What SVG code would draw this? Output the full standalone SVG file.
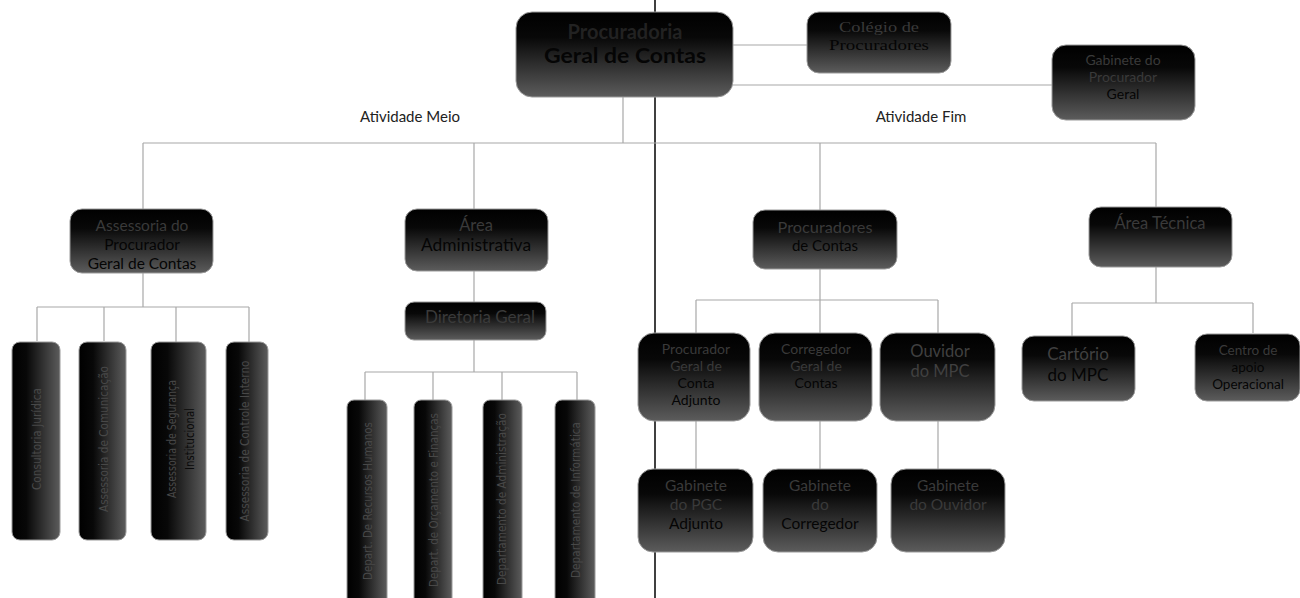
<svg xmlns="http://www.w3.org/2000/svg" width="1300" height="598" viewBox="0 0 1300 598">
<defs>
<linearGradient id="gv" x1="0" y1="0" x2="0" y2="1">
<stop offset="0" stop-color="#000"/>
<stop offset="0.3" stop-color="#080808"/>
<stop offset="1" stop-color="#5c5c5c"/>
</linearGradient>
<linearGradient id="gh" x1="0" y1="0" x2="1" y2="0">
<stop offset="0" stop-color="#000"/>
<stop offset="0.3" stop-color="#080808"/>
<stop offset="1" stop-color="#5c5c5c"/>
</linearGradient>
<style>
.box{fill:url(#gv);stroke:#9a9a9a;stroke-width:1}
.vbox{fill:url(#gh);stroke:#9a9a9a;stroke-width:1}
.ln{stroke:#a8a8a8;stroke-width:1.2;fill:none}
.t{font-family:Lato,"Liberation Sans",sans-serif;text-anchor:middle}
.L{fill:#3a3a3a}
.D{fill:#050505}
.vt{font-family:"DejaVu Sans Condensed","Liberation Sans",sans-serif;fill:#484848;text-anchor:middle;font-size:13px}
.lbl{font-family:Lato,"Liberation Sans",sans-serif;fill:#222;font-size:15px;text-anchor:middle}
</style>
</defs>
<rect width="1300" height="598" fill="#fff"/>
<g id="connectors">
<line x1="655" y1="0" x2="655" y2="598" stroke="#000" stroke-width="1.5"/>
<path class="ln" d="M733 45H807M733 85H1052M623 97V143M143 143H1156M143 143V210M474 143V210M820 143V210M1156 143V208"/>
<path class="ln" d="M143 273V307M37 307H249M37 307V341M104 307V341M176 307V342M249 307V342"/>
<path class="ln" d="M474 271V302M474 340V372M365 372H577M365 372V400M433 372V400M502 372V400M577 372V400"/>
<path class="ln" d="M820 269V300M696 300H938M696 300V333M820 300V333M938 300V333M696 421V469M820 421V469M938 421V469"/>
<path class="ln" d="M1156 267V303M1072 303H1253M1072 303V336M1253 303V333"/>
</g>
<g id="n-procuradoria">
<rect class="box" x="516" y="12" width="217" height="85" rx="16"/>
<text class="t" x="625" y="39" style="font-size:20px;font-weight:bold;fill:#222">Procuradoria</text>
<text class="t D" x="625" y="63" style="font-size:20px;font-weight:bold" textLength="162" lengthAdjust="spacingAndGlyphs">Geral de Contas</text>
</g>
<g id="n-colegio">
<rect class="box" x="807" y="12" width="144" height="61" rx="12"/>
<text class="t L" x="879" y="32" style="font-family:'Liberation Serif','DejaVu Serif',serif;font-size:14px" textLength="80" lengthAdjust="spacingAndGlyphs">Colégio de</text>
<text class="t D" x="879" y="50" style="font-family:'Liberation Serif','DejaVu Serif',serif;font-size:14px" textLength="100" lengthAdjust="spacingAndGlyphs">Procuradores</text>
</g>
<g id="n-gabinete-pg">
<rect class="box" x="1052" y="45" width="143" height="75" rx="14"/>
<text class="t L" x="1123" y="65" style="font-size:14px">Gabinete do</text>
<text class="t L" x="1123" y="82" style="font-size:14px">Procurador</text>
<text class="t D" x="1123" y="99" style="font-size:14px">Geral</text>
</g>
<text class="lbl" x="410" y="122">Atividade Meio</text>
<text class="lbl" x="921" y="122">Atividade Fim</text>
<g id="n-assessoria">
<rect class="box" x="70" y="209" width="143" height="64" rx="12"/>
<text class="t L" x="142" y="231" style="font-size:15.5px">Assessoria do</text>
<text class="t D" x="142" y="250" style="font-size:15.5px">Procurador</text>
<text class="t D" x="142" y="269" style="font-size:15.5px">Geral de Contas</text>
</g>
<g id="n-consultoria">
<rect class="vbox" x="12" y="342" width="48" height="198" rx="8"/>
<text class="vt" transform="translate(41 439) rotate(-90)" textLength="102" lengthAdjust="spacingAndGlyphs">Consultoria Jurídica</text>
</g>
<g id="n-comunicacao">
<rect class="vbox" x="79" y="342" width="47" height="198" rx="8"/>
<text class="vt" transform="translate(108 439) rotate(-90)" textLength="146" lengthAdjust="spacingAndGlyphs">Assessoria de Comunicação</text>
</g>
<g id="n-seguranca">
<rect class="vbox" x="151" y="342" width="55" height="198" rx="8"/>
<text class="vt" transform="translate(176 439) rotate(-90)" style="font-size:12px" textLength="118" lengthAdjust="spacingAndGlyphs">Assessoria de Segurança</text>
<text class="vt" transform="translate(194 439) rotate(-90)" style="font-size:12px;fill:#0a0a0a" textLength="62" lengthAdjust="spacingAndGlyphs">Institucional</text>
</g>
<g id="n-controle">
<rect class="vbox" x="226" y="342" width="42" height="198" rx="8"/>
<text class="vt" transform="translate(249 441) rotate(-90)" textLength="161" lengthAdjust="spacingAndGlyphs">Assessoria de Controle Interno</text>
</g>
<g id="n-area-adm">
<rect class="box" x="405" y="209" width="143" height="62" rx="12"/>
<text class="t L" x="476" y="231" style="font-size:16.5px">Área</text>
<text class="t D" x="476" y="251" style="font-size:16.5px" textLength="110" lengthAdjust="spacingAndGlyphs">Administrativa</text>
</g>
<g id="n-diretoria">
<rect class="box" x="405" y="302" width="141" height="38" rx="9"/>
<text class="t L" x="480" y="323" style="font-size:17px;font-family:'Comic Sans MS',Lato,'Liberation Sans',sans-serif">Diretoria Geral</text>
</g>
<g id="n-rh">
<rect class="vbox" x="347" y="400" width="40" height="210" rx="7"/>
<text class="vt" transform="translate(372 501) rotate(-90)" textLength="158" lengthAdjust="spacingAndGlyphs">Depart. De Recursos Humanos</text>
</g>
<g id="n-orcamento">
<rect class="vbox" x="414" y="400" width="38" height="210" rx="7"/>
<text class="vt" transform="translate(438 500) rotate(-90)" textLength="174" lengthAdjust="spacingAndGlyphs">Depart. de Orçamento e Finanças</text>
</g>
<g id="n-administracao">
<rect class="vbox" x="483" y="400" width="39" height="210" rx="7"/>
<text class="vt" transform="translate(506 499) rotate(-90)" textLength="172" lengthAdjust="spacingAndGlyphs">Departamento de Administração</text>
</g>
<g id="n-informatica">
<rect class="vbox" x="555" y="400" width="40" height="210" rx="7"/>
<text class="vt" transform="translate(580 500) rotate(-90)" textLength="156" lengthAdjust="spacingAndGlyphs">Departamento de Informática</text>
</g>
<g id="n-procuradores">
<rect class="box" x="753" y="210" width="144" height="59" rx="12"/>
<text class="t L" x="825" y="233" style="font-size:15px" textLength="95" lengthAdjust="spacingAndGlyphs">Procuradores</text>
<text class="t D" x="825" y="251" style="font-size:15px">de Contas</text>
</g>
<g id="n-pgc-adjunto">
<rect class="box" x="638" y="333" width="112" height="88" rx="16"/>
<text class="t L" x="696" y="354" style="font-size:14px">Procurador</text>
<text class="t L" x="696" y="371" style="font-size:14px">Geral de</text>
<text class="t D" x="696" y="388" style="font-size:14px">Conta</text>
<text class="t D" x="696" y="405" style="font-size:14px">Adjunto</text>
</g>
<g id="n-corregedor">
<rect class="box" x="759" y="333" width="113" height="88" rx="16"/>
<text class="t L" x="816" y="354" style="font-size:14px">Corregedor</text>
<text class="t L" x="816" y="371" style="font-size:14px">Geral de</text>
<text class="t D" x="816" y="388" style="font-size:14px">Contas</text>
</g>
<g id="n-ouvidor">
<rect class="box" x="880" y="333" width="115" height="88" rx="16"/>
<text class="t" x="940" y="357" style="font-size:16.5px;fill:#404040">Ouvidor</text>
<text class="t" x="940" y="377" style="font-size:16.5px;fill:#404040">do MPC</text>
</g>
<g id="n-gab-pgc">
<rect class="box" x="638" y="469" width="115" height="83" rx="15"/>
<text class="t L" x="696" y="491" style="font-size:15.5px">Gabinete</text>
<text class="t L" x="696" y="510" style="font-size:15.5px">do PGC</text>
<text class="t D" x="696" y="529" style="font-size:15.5px">Adjunto</text>
</g>
<g id="n-gab-corregedor">
<rect class="box" x="763" y="469" width="114" height="83" rx="15"/>
<text class="t L" x="820" y="491" style="font-size:15.5px">Gabinete</text>
<text class="t L" x="820" y="510" style="font-size:15.5px">do</text>
<text class="t D" x="820" y="529" style="font-size:15.5px">Corregedor</text>
</g>
<g id="n-gab-ouvidor">
<rect class="box" x="891" y="469" width="114" height="83" rx="15"/>
<text class="t L" x="948" y="491" style="font-size:15.5px">Gabinete</text>
<text class="t L" x="948" y="510" style="font-size:15.5px">do Ouvidor</text>
</g>
<g id="n-area-tecnica">
<rect class="box" x="1089" y="207" width="143" height="60" rx="12"/>
<text class="t L" x="1160" y="229" style="font-size:16.5px">Área Técnica</text>
</g>
<g id="n-cartorio">
<rect class="box" x="1022" y="336" width="113" height="65" rx="12"/>
<text class="t" x="1078" y="360" style="font-size:17px;fill:#404040">Cartório</text>
<text class="t D" x="1078" y="381" style="font-size:17px">do MPC</text>
</g>
<g id="n-centro">
<rect class="box" x="1195" y="334" width="105" height="67" rx="12"/>
<text class="t L" x="1248" y="355" style="font-size:13.5px">Centro de</text>
<text class="t D" x="1248" y="372" style="font-size:13.5px">apoio</text>
<text class="t D" x="1248" y="389" style="font-size:13.5px">Operacional</text>
</g>
</svg>
